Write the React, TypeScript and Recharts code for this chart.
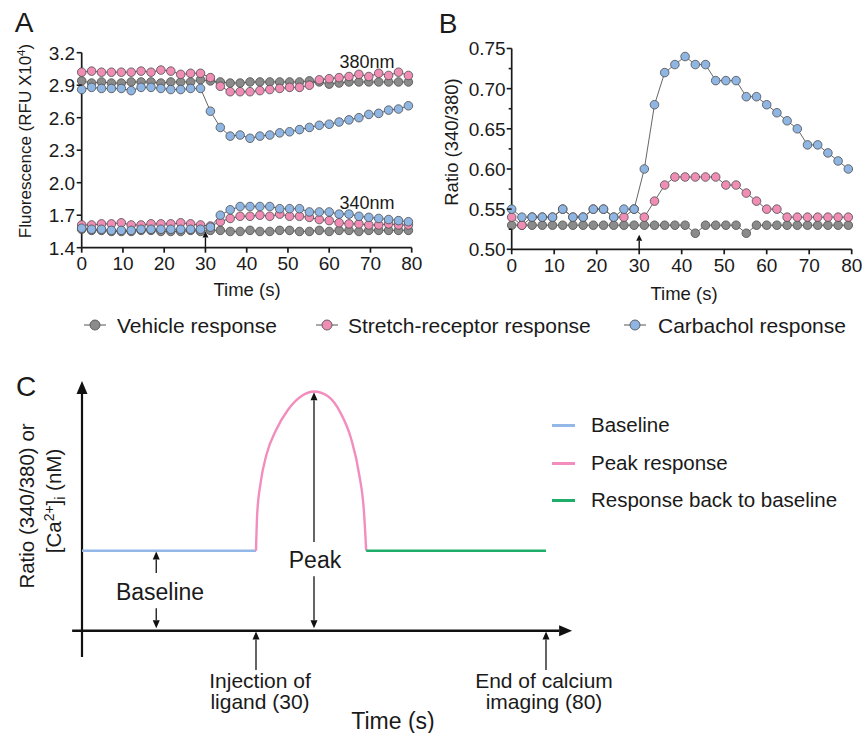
import React from "react";
import { LineChart, Line, XAxis, YAxis, ReferenceLine } from "recharts";

const FONT = "'Liberation Sans', Arial, Helvetica, sans-serif";
const INK = "#1a1a1a";

// sampling times (s), shared by panels A and B
const times = [0, 2.4, 4.8, 7.2, 9.6, 12, 14.4, 16.8, 19.2, 21.6, 24, 26.4, 28.8, 31.2, 33.6, 36, 38.4, 40.8, 43.2, 45.6, 48, 50.4, 52.8, 55.2, 57.6, 60, 62.4, 64.8, 67.2, 69.6, 72, 74.4, 76.8, 79.2];

// panel A - 380 nm
const vehicle380 = [2.94, 2.92, 2.93, 2.92, 2.92, 2.93, 2.93, 2.93, 2.92, 2.93, 2.93, 2.93, 2.95, 2.94, 2.93, 2.92, 2.92, 2.93, 2.93, 2.93, 2.93, 2.93, 2.93, 2.94, 2.93, 2.91, 2.92, 2.93, 2.93, 2.93, 2.93, 2.93, 2.93, 2.93];
const stretch380 = [3.02, 3.03, 3.02, 3.02, 3.02, 3.02, 3.03, 3.02, 3.04, 3.03, 3.0, 3.01, 3.01, 2.97, 2.89, 2.84, 2.84, 2.84, 2.85, 2.86, 2.87, 2.88, 2.88, 2.9, 2.95, 2.96, 2.97, 2.98, 3.0, 2.98, 3.01, 2.99, 3.02, 2.99];
const carbachol380 = [2.86, 2.88, 2.87, 2.87, 2.87, 2.85, 2.88, 2.88, 2.87, 2.86, 2.86, 2.87, 2.87, 2.66, 2.51, 2.43, 2.44, 2.41, 2.43, 2.44, 2.46, 2.47, 2.49, 2.51, 2.53, 2.54, 2.56, 2.58, 2.6, 2.63, 2.64, 2.67, 2.68, 2.71];

// panel A - 340 nm
const vehicle340 = [1.57, 1.56, 1.56, 1.55, 1.55, 1.55, 1.56, 1.56, 1.55, 1.55, 1.55, 1.56, 1.55, 1.56, 1.56, 1.55, 1.55, 1.56, 1.55, 1.55, 1.56, 1.56, 1.55, 1.55, 1.56, 1.55, 1.56, 1.56, 1.55, 1.56, 1.56, 1.56, 1.56, 1.56];
const stretch340 = [1.61, 1.61, 1.62, 1.62, 1.63, 1.61, 1.61, 1.62, 1.62, 1.62, 1.63, 1.62, 1.61, 1.6, 1.64, 1.67, 1.69, 1.69, 1.7, 1.69, 1.71, 1.69, 1.69, 1.68, 1.66, 1.65, 1.63, 1.62, 1.62, 1.61, 1.61, 1.62, 1.61, 1.61];
const carbachol340 = [1.58, 1.57, 1.57, 1.56, 1.56, 1.56, 1.57, 1.57, 1.57, 1.57, 1.57, 1.57, 1.57, 1.59, 1.7, 1.75, 1.78, 1.78, 1.78, 1.78, 1.76, 1.76, 1.76, 1.73, 1.73, 1.73, 1.71, 1.71, 1.69, 1.68, 1.67, 1.66, 1.65, 1.64];

// panel B - ratio 340/380
const vehicleRatio = [0.53, 0.53, 0.53, 0.53, 0.53, 0.53, 0.53, 0.53, 0.53, 0.53, 0.53, 0.53, 0.53, 0.53, 0.53, 0.53, 0.53, 0.53, 0.52, 0.53, 0.53, 0.53, 0.53, 0.52, 0.53, 0.53, 0.53, 0.53, 0.53, 0.53, 0.53, 0.53, 0.53, 0.53];
const stretchRatio = [0.54, 0.53, 0.54, 0.54, 0.54, 0.55, 0.54, 0.54, 0.55, 0.55, 0.54, 0.54, 0.55, 0.54, 0.56, 0.58, 0.59, 0.59, 0.59, 0.59, 0.59, 0.58, 0.58, 0.57, 0.56, 0.55, 0.55, 0.54, 0.54, 0.54, 0.54, 0.54, 0.54, 0.54];
const carbacholRatio = [0.55, 0.54, 0.54, 0.54, 0.54, 0.55, 0.54, 0.54, 0.55, 0.55, 0.54, 0.55, 0.55, 0.6, 0.68, 0.72, 0.73, 0.74, 0.73, 0.73, 0.71, 0.71, 0.71, 0.69, 0.69, 0.68, 0.67, 0.66, 0.65, 0.63, 0.63, 0.62, 0.61, 0.6];

const timeTicks = [0, 10, 20, 30, 40, 50, 60, 70, 80];
const fluoTicks = [1.4, 1.7, 2.0, 2.3, 2.6, 2.9, 3.2];
const ratioTicks = [0.5, 0.525, 0.55, 0.575, 0.6, 0.625, 0.65, 0.675, 0.7, 0.725, 0.75];
const ratioLabels = [0.5, 0.55, 0.6, 0.65, 0.7, 0.75];

// panel C - schematic trace
const baselineTimes = [0, 30];
const baselineValues = [1, 1];
const peakTimes = [30, 30.2, 30.8, 31.8, 33.4, 35.4, 37.8, 40, 42.4, 44.6, 46.4, 47.8, 48.6, 49];
const peakValues = [1, 1.45, 1.85, 2.2, 2.5, 2.75, 2.93, 2.99, 2.93, 2.72, 2.4, 1.95, 1.5, 1];
const backTimes = [49, 80];
const backValues = [1, 1];

const SERIES = [
  { name: "Vehicle response", color: "#8b8b8b" },
  { name: "Stretch-receptor response", color: "#f08db5" },
  { name: "Carbachol response", color: "#8fb5e3" },
];
const C_LEGEND = [
  { name: "Baseline", color: "#93b8e8" },
  { name: "Peak response", color: "#f28dbd" },
  { name: "Response back to baseline", color: "#1eae6a" },
];

const dataA = times.map((t, i) => ({
  t,
  v380: vehicle380[i],
  s380: stretch380[i],
  c380: carbachol380[i],
  v340: vehicle340[i],
  s340: stretch340[i],
  c340: carbachol340[i],
}));
const dataB = times.map((t, i) => ({
  t,
  v: vehicleRatio[i],
  s: stretchRatio[i],
  c: carbacholRatio[i],
}));
const toPts = (ts: number[], vs: number[]) => ts.map((t, i) => ({ t, v: vs[i] }));

const axisStyle = { stroke: INK, strokeWidth: 1.7 };
const tickStyle = { fill: INK, fontSize: 19, fontFamily: FONT };

const makeYTick = (majors: number[], digits: number, gap: number) => (props: any) => {
  const { x, y, payload } = props;
  const val = Number(payload.value);
  const major = majors.some((m) => Math.abs(m - val) < 1e-6);
  return (
    <g>
      <line x1={x - (major ? 5 : 3)} x2={x} y1={y} y2={y} stroke={INK} strokeWidth={1.6} />
      {major && (
        <text x={x - gap} y={y} dy="0.36em" textAnchor="end" fontSize={19} fontFamily={FONT} fill={INK}>
          {val.toFixed(digits)}
        </text>
      )}
    </g>
  );
};

const arrow = (head: number, half: number, width: number) => (p: any) => {
  const { x1, y1, x2, y2 } = p;
  const dx = x2 - x1;
  const dy = y2 - y1;
  const len = Math.hypot(dx, dy) || 1;
  const ux = dx / len;
  const uy = dy / len;
  const bx = x2 - ux * head;
  const by = y2 - uy * head;
  const px = -uy * half;
  const py = ux * half;
  return (
    <g>
      <line x1={x1} y1={y1} x2={bx} y2={by} stroke="#111" strokeWidth={width} />
      <polygon points={`${x2},${y2} ${bx + px},${by + py} ${bx - px},${by - py}`} fill="#111" />
    </g>
  );
};

const dotted = (color: string) => ({ r: 4.3, fill: color, stroke: "#4d4d4d", strokeWidth: 0.8 });

const Txt = ({ x, y, size, anchor = "middle", rotate = false, children }: any) => (
  <div
    style={{
      position: "absolute",
      left: x,
      top: y,
      transform: `translate(${anchor === "middle" ? "-50%" : "0"},-50%)${rotate ? " rotate(-90deg)" : ""}`,
      fontSize: size,
      lineHeight: 1,
      whiteSpace: "nowrap",
      color: INK,
      fontFamily: FONT,
    }}
  >
    {children}
  </div>
);

const sup = { fontSize: "0.68em", position: "relative" as const, top: "-0.5em" };
const sub = { fontSize: "0.68em", position: "relative" as const, top: "0.3em" };

const ChartA = () => (
  <LineChart width={430} height={310} data={dataA} margin={{ top: 52.7, right: 18.3, left: 0, bottom: 0 }}>
    <XAxis type="number" dataKey="t" domain={[0, 80]} ticks={timeTicks} interval={0} height={62.3}
      tickSize={5} tickMargin={4} axisLine={axisStyle} tickLine={axisStyle} tick={tickStyle} />
    <YAxis type="number" domain={[1.4, 3.2]} ticks={fluoTicks} interval={0} width={81.7}
      tickSize={0} tickMargin={0} axisLine={axisStyle} tickLine={false} tick={makeYTick(fluoTicks, 1, 6.5)} />
    <Line dataKey="v380" stroke="#555" strokeWidth={0.9} dot={dotted(SERIES[0].color)} activeDot={false} isAnimationActive={false} />
    <Line dataKey="s380" stroke="#555" strokeWidth={0.9} dot={dotted(SERIES[1].color)} activeDot={false} isAnimationActive={false} />
    <Line dataKey="c380" stroke="#555" strokeWidth={0.9} dot={dotted(SERIES[2].color)} activeDot={false} isAnimationActive={false} />
    <Line dataKey="v340" stroke="#555" strokeWidth={0.9} dot={dotted(SERIES[0].color)} activeDot={false} isAnimationActive={false} />
    <Line dataKey="s340" stroke="#555" strokeWidth={0.9} dot={dotted(SERIES[1].color)} activeDot={false} isAnimationActive={false} />
    <Line dataKey="c340" stroke="#555" strokeWidth={0.9} dot={dotted(SERIES[2].color)} activeDot={false} isAnimationActive={false} />
    <ReferenceLine segment={[{ x: 30, y: 1.4 }, { x: 30, y: 1.55 }]} ifOverflow="visible" shape={arrow(6, 3, 1.4)} />
  </LineChart>
);

const ChartB = () => (
  <LineChart width={434} height={310} data={dataB} margin={{ top: 48.5, right: 12.3, left: 0, bottom: 0 }}>
    <XAxis type="number" dataKey="t" domain={[0, 80]} ticks={timeTicks} interval={0} height={60.7}
      tickSize={5} tickMargin={4} axisLine={axisStyle} tickLine={axisStyle} tick={tickStyle} />
    <YAxis type="number" domain={[0.5, 0.75]} ticks={ratioTicks} interval={0} width={81.7}
      tickSize={0} tickMargin={0} axisLine={axisStyle} tickLine={false} tick={makeYTick(ratioLabels, 2, 6)} />
    <Line dataKey="v" stroke="#555" strokeWidth={0.9} dot={dotted(SERIES[0].color)} activeDot={false} isAnimationActive={false} />
    <Line dataKey="s" stroke="#555" strokeWidth={0.9} dot={dotted(SERIES[1].color)} activeDot={false} isAnimationActive={false} />
    <Line dataKey="c" stroke="#555" strokeWidth={0.9} dot={dotted(SERIES[2].color)} activeDot={false} isAnimationActive={false} />
    <ReferenceLine segment={[{ x: 30, y: 0.5 }, { x: 30, y: 0.518 }]} ifOverflow="visible" shape={arrow(6, 3, 1.4)} />
  </LineChart>
);

const ChartC = () => (
  <LineChart width={600} height={373} margin={{ top: 21.1, right: 19.2, left: 70.4, bottom: 62.3 }}>
    <XAxis type="number" dataKey="t" domain={[-2, 86]} hide allowDataOverflow />
    <YAxis type="number" domain={[-0.5, 3.12]} hide allowDataOverflow />
    <ReferenceLine segment={[{ x: 0, y: -0.33 }, { x: 0, y: 3.12 }]} ifOverflow="visible" shape={arrow(13, 5.5, 2.2)} />
    <ReferenceLine segment={[{ x: -1.7, y: 0 }, { x: 84.5, y: 0 }]} ifOverflow="visible" shape={arrow(13, 5.5, 2.4)} />
    <Line data={toPts(baselineTimes, baselineValues)} dataKey="v" stroke={C_LEGEND[0].color} strokeWidth={2.6} dot={false} activeDot={false} isAnimationActive={false} />
    <Line data={toPts(peakTimes, peakValues)} dataKey="v" type="monotone" stroke={C_LEGEND[1].color} strokeWidth={2.4} dot={false} activeDot={false} isAnimationActive={false} />
    <Line data={toPts(backTimes, backValues)} dataKey="v" stroke={C_LEGEND[2].color} strokeWidth={2.6} dot={false} activeDot={false} isAnimationActive={false} />
    <ReferenceLine segment={[{ x: 12.8, y: 0.72 }, { x: 12.8, y: 0.99 }]} ifOverflow="visible" shape={arrow(8, 3.5, 1.3)} />
    <ReferenceLine segment={[{ x: 12.8, y: 0.28 }, { x: 12.8, y: 0.03 }]} ifOverflow="visible" shape={arrow(8, 3.5, 1.3)} />
    <ReferenceLine segment={[{ x: 40, y: 1.11 }, { x: 40, y: 2.98 }]} ifOverflow="visible" shape={arrow(8, 3.5, 1.3)} />
    <ReferenceLine segment={[{ x: 40, y: 0.68 }, { x: 40, y: 0.03 }]} ifOverflow="visible" shape={arrow(8, 3.5, 1.3)} />
    <ReferenceLine segment={[{ x: 30, y: -0.49 }, { x: 30, y: -0.01 }]} ifOverflow="visible" shape={arrow(8, 3.5, 1.3)} />
    <ReferenceLine segment={[{ x: 80, y: -0.49 }, { x: 80, y: -0.01 }]} ifOverflow="visible" shape={arrow(8, 3.5, 1.3)} />
  </LineChart>
);

const LEG_MARK_X = [95, 327, 635];
const LEG_TEXT_X = [117, 348, 658];
const C_LEG_Y = [425, 463, 500];

export default function App() {
  return (
    <div style={{ position: "absolute", left: 0, top: 0, width: 864, height: 733, background: "#fff", fontFamily: FONT }}>
      <div style={{ position: "absolute", left: 0, top: 0 }}>
        <ChartA />
      </div>
      <div style={{ position: "absolute", left: 430, top: 0 }}>
        <ChartB />
      </div>
      <div style={{ position: "absolute", left: 0, top: 360 }}>
        <ChartC />
      </div>

      <Txt x={24} y={23} size={28}>A</Txt>
      <Txt x={448} y={24} size={28}>B</Txt>
      <Txt x={26} y={387} size={28}>C</Txt>

      <Txt x={25} y={141} size={17} rotate>
        Fluorescence (RFU X10<span style={sup}>4</span>)
      </Txt>
      <Txt x={247} y={290} size={18.5}>Time (s)</Txt>
      <Txt x={367} y={62} size={18}>380nm</Txt>
      <Txt x={367} y={203} size={18}>340nm</Txt>

      <Txt x={452} y={142} size={18.5} rotate>Ratio (340/380)</Txt>
      <Txt x={684} y={294} size={18.5}>Time (s)</Txt>

      {SERIES.map((s, i) => (
        <React.Fragment key={s.name}>
          <svg style={{ position: "absolute", left: LEG_MARK_X[i] - 11, top: 318 }} width={22} height={14}>
            <line x1={0} x2={22} y1={7} y2={7} stroke="#555" strokeWidth={1} />
            <circle cx={11} cy={7} r={5} fill={s.color} stroke="#555" strokeWidth={0.9} />
          </svg>
          <Txt x={LEG_TEXT_X[i]} y={325} size={21} anchor="start">{s.name}</Txt>
        </React.Fragment>
      ))}

      <Txt x={27} y={506} size={20.5} rotate>Ratio (340/380) or</Txt>
      <Txt x={54} y={501} size={20.5} rotate>
        [Ca<span style={sup}>2+</span>]<span style={sub}>i</span> (nM)
      </Txt>

      {C_LEGEND.map((s, i) => (
        <React.Fragment key={s.name}>
          <div style={{ position: "absolute", left: 552, top: C_LEG_Y[i] - 1.5, width: 23, height: 3, background: s.color }} />
          <Txt x={591} y={C_LEG_Y[i]} size={20.5} anchor="start">{s.name}</Txt>
        </React.Fragment>
      ))}

      <Txt x={160} y={592} size={23}>Baseline</Txt>
      <Txt x={315} y={560} size={23}>Peak</Txt>
      <Txt x={260} y={680} size={21}>Injection of</Txt>
      <Txt x={260} y={701} size={21}>ligand (30)</Txt>
      <Txt x={544} y={680} size={21}>End of calcium</Txt>
      <Txt x={544} y={701} size={21}>imaging (80)</Txt>
      <Txt x={393} y={721} size={23}>Time (s)</Txt>
    </div>
  );
}
